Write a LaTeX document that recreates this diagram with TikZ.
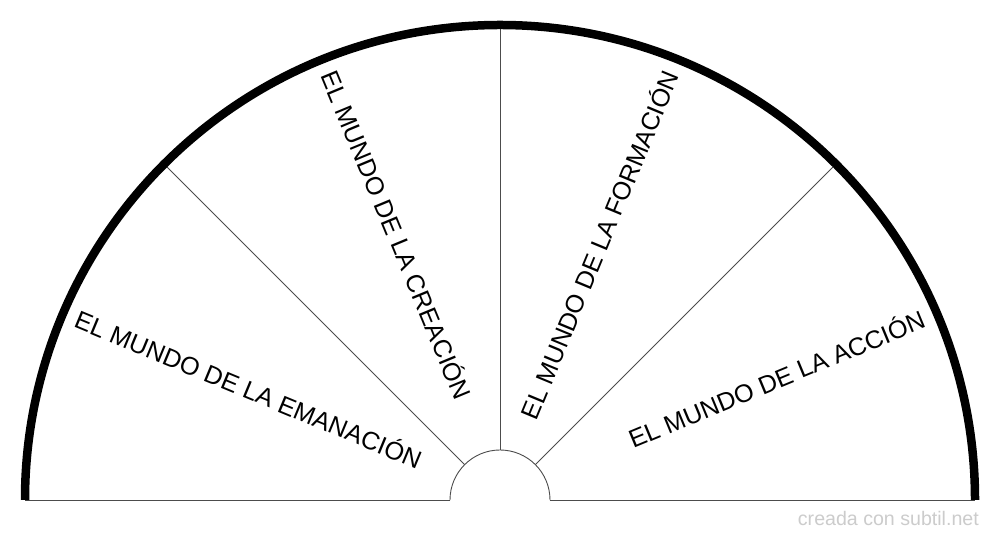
\documentclass[tikz,border=0pt]{standalone}
\usepackage{fontspec}
\setmainfont{Liberation Sans}
\usetikzlibrary{calc}
\begin{document}
\begin{tikzpicture}[x=1pt,y=1pt,
  outerarc/.style={line width=8.5pt,black},
  thinline/.style={line width=0.9pt,black!70},
  lbl/.style={font=\fontsize{25.2}{28}\selectfont,inner sep=0pt,text height=0.716em,text depth=0pt},
  wmtext/.style={font=\fontsize{19.6}{22}\selectfont,text=black!20,inner sep=0pt}]
\useasboundingbox (0,0) rectangle (1000,540);
\fill[white] (0,0) rectangle (1000,540);
\coordinate (c) at (500,40);
\coordinate (ol) at (25,40);
\coordinate (or) at (975,40);
\coordinate (il) at (450,40);
\coordinate (ir) at (550,40);
% baseline and inner arc
\draw[thinline] (ol) -- (il);
\draw[thinline] (ir) -- (or);
\draw[thinline] (ir) arc[start angle=0,end angle=180,radius=50];
% dividers
\coordinate (d1a) at ($(c)+(135:50)$);
\coordinate (d1b) at ($(c)+(135:475)$);
\coordinate (d2a) at ($(c)+(90:50)$);
\coordinate (d2b) at ($(c)+(90:475)$);
\coordinate (d3a) at ($(c)+(45:50)$);
\coordinate (d3b) at ($(c)+(45:475)$);
\draw[thinline] (d1a) -- (d1b);
\draw[thinline] (d2a) -- (d2b);
\draw[thinline] (d3a) -- (d3b);
% outer arc
\draw[outerarc] (ol) arc[start angle=180,end angle=0,radius=475];
% labels
\node[lbl,anchor=west,rotate=-22.5] (emanacion) at ($(c)+(157.5:461)$) {EL MUNDO DE LA EMANACIÓN};
\node[lbl,anchor=west,rotate=-67.5] (creacion) at ($(c)+(112.5:461)$) {EL MUNDO DE LA CREACIÓN};
\node[lbl,anchor=east,rotate=67.5] (formacion) at ($(c)+(67.5:461)$) {EL MUNDO DE LA FORMACIÓN};
\node[lbl,anchor=east,rotate=22.5] (accion) at ($(c)+(22.5:461)$) {EL MUNDO DE LA ACCIÓN};
\node[wmtext,anchor=base east] (wm) at (979,14) {creada con subtil.net};
\end{tikzpicture}
\end{document}
